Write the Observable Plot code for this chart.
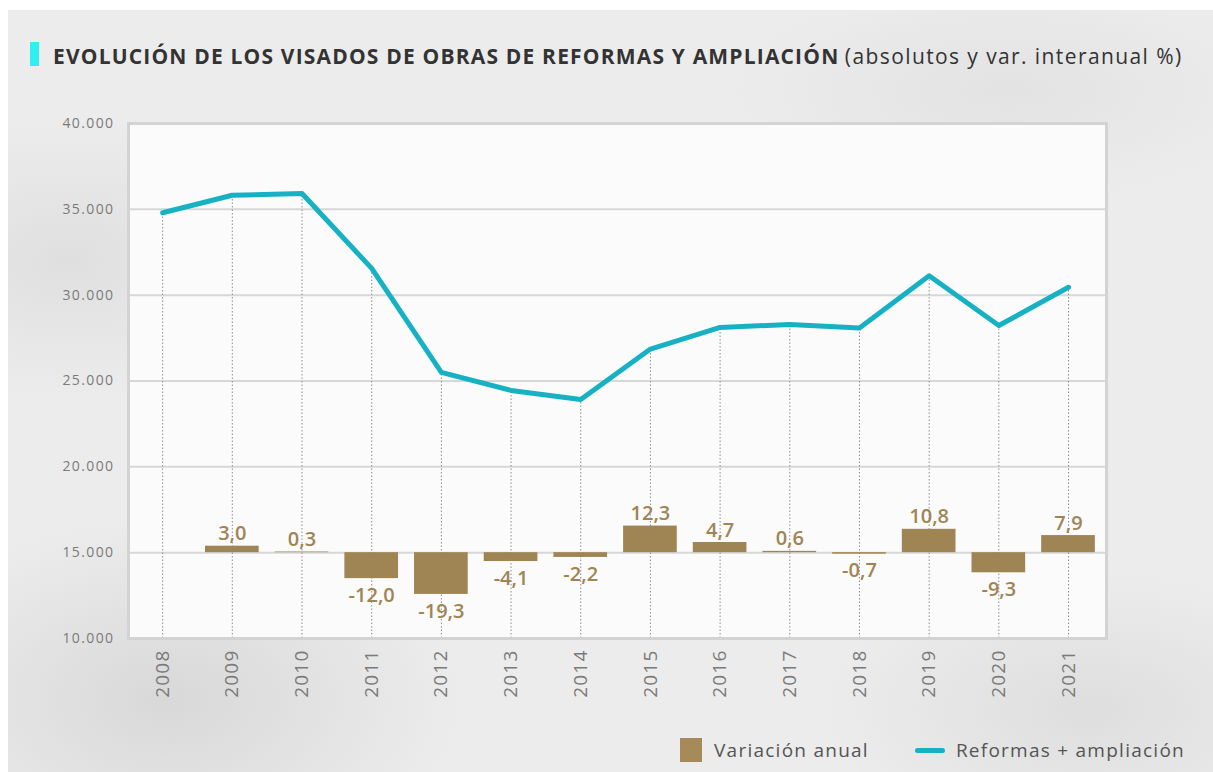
<!DOCTYPE html>
<html>
<head>
<meta charset="utf-8">
<script src="https://cdn.jsdelivr.net/npm/d3@7"></script>
<script src="https://cdn.jsdelivr.net/npm/@observablehq/plot@0.6"></script>
<style>
  html, body { margin: 0; padding: 0; background: #ffffff; width: 1213px; height: 772px; overflow: hidden; }
  #bg {
    position: absolute; left: 8px; top: 10px; width: 1205px; height: 762px;
    background:
      radial-gradient(ellipse 420px 260px at 160px 690px, rgba(200,200,200,0.55), rgba(200,200,200,0) 70%),
      radial-gradient(ellipse 380px 200px at 1080px 700px, rgba(205,205,205,0.45), rgba(205,205,205,0) 70%),
      radial-gradient(ellipse 300px 200px at 60px 250px, rgba(210,210,210,0.5), rgba(210,210,210,0) 70%),
      radial-gradient(ellipse 400px 160px at 1000px 80px, rgba(215,215,215,0.45), rgba(215,215,215,0) 70%),
      #ececec;
  }
  #title {
    position: absolute; left: 53px; top: 46px; margin: 0;
    font-family: "Open Sans", sans-serif; font-size: 21px; line-height: 21px;
    color: #333333; white-space: nowrap;
  }
  #title b { font-weight: 700; letter-spacing: 1.18px; }
  #title span { font-weight: 400; letter-spacing: 1.4px; }
  #marker { position: absolute; left: 30px; top: 42px; width: 9px; height: 24px; background: #2ef0f0; }
  #chart { position: absolute; left: 0; top: 0; }
  #legend {
    position: absolute; left: 680px; top: 737px; display: flex; align-items: center;
    font-family: "Open Sans", sans-serif; font-size: 19px; letter-spacing: 1.25px; color: #555555;
  }
  #legend .sq { width: 22px; height: 24px; background: #a58a5a; margin-right: 12px; }
  #legend .ln { width: 30px; height: 5px; border-radius: 3px; background: #17b1c4; margin-left: 46px; margin-right: 11px; }
  g[aria-label="y-axis tick label"] text { letter-spacing: 1.4px; }
  g[aria-label="x-axis tick label"] text { letter-spacing: 1.2px; }
</style>
</head>
<body>
<div id="bg"></div>
<div id="marker"></div>
<div id="title"><b>EVOLUCIÓN DE LOS VISADOS DE OBRAS DE REFORMAS Y AMPLIACIÓN</b> <span>(absolutos y var. interanual %)</span></div>
<div id="chart"></div>
<div id="legend"><div class="sq"></div><div>Variación anual</div><div class="ln"></div><div>Reformas + ampliación</div></div>
<script>
// ---- data ----
const years = [2008, 2009, 2010, 2011, 2012, 2013, 2014, 2015, 2016, 2017, 2018, 2019, 2020, 2021];
const absolutos = [34800, 35820, 35920, 31560, 25500, 24450, 23920, 26860, 28120, 28290, 28090, 31130, 28230, 30460];
const variacion = [null, 3.0, 0.3, -12.0, -19.3, -4.1, -2.2, 12.3, 4.7, 0.6, -0.7, 10.8, -9.3, 7.9];
const yTicks = [10000, 15000, 20000, 25000, 30000, 35000, 40000];

// secondary (percentage) axis mapped onto the main axis: 0 % at 15.000, 1 point = 126 units
const BAR_BASE = 15000, BAR_UNIT = 126;
const HALF_BAR = 0.385; // half bar width, in years

const rows = years.map((y, i) => ({ year: y, abs: absolutos[i], v: variacion[i] }));
const bars = rows.filter(d => d.v != null).map(d => ({ ...d, yv: BAR_BASE + d.v * BAR_UNIT }));
const fmtPct = v => d3.format(".1f")(v).replace(".", ",").replace("\u2212", "-");
const fmtAbs = v => d3.format(",")(v).replace(/,/g, ".");

const lineColor = "#17b1c4";
const barColor = "#9f8454";

const plot = Plot.plot({
  width: 1213,
  height: 720,
  marginLeft: 128,
  marginRight: 107,
  marginTop: 123,
  marginBottom: 82,
  style: { fontFamily: "'Open Sans', sans-serif", background: "transparent", overflow: "visible" },
  x: { domain: [years[0] - 0.49, years[years.length - 1] + 0.545], label: null },
  y: { domain: [10000, 40000], label: null },
  marks: [
    Plot.frame({ fill: "#fcfcfc", fillOpacity: 0.95 }),
    Plot.gridY(yTicks.slice(1, -1), { stroke: "#d7d7d7", strokeOpacity: 1, strokeWidth: 2 }),
    Plot.ruleX(rows, { x: "year", y1: 10000, y2: "abs", stroke: "#8d8d8d", strokeWidth: 1, strokeDasharray: "1.5,2" }),
    Plot.rectY(bars, { x1: d => d.year - HALF_BAR, x2: d => d.year + HALF_BAR, y1: BAR_BASE, y2: "yv", fill: barColor }),
    Plot.text(bars.filter(d => d.v >= 0), { x: "year", y: "yv", text: d => fmtPct(d.v), lineAnchor: "bottom", dy: -6, fill: barColor, fontSize: 20, fontWeight: 600 }),
    Plot.text(bars.filter(d => d.v < 0), { x: "year", y: "yv", text: d => fmtPct(d.v), lineAnchor: "top", dy: 9, fill: barColor, fontSize: 20, fontWeight: 600 }),
    Plot.line(rows, { x: "year", y: "abs", stroke: lineColor, strokeWidth: 5, strokeLinejoin: "round" }),
    Plot.frame({ stroke: "#d3d3d3", strokeWidth: 3 }),
    Plot.axisY(yTicks, { tickFormat: fmtAbs, tickSize: 0, tickPadding: 14, fontSize: 14, color: "#7a7a7a" }),
    Plot.axisX(years, { tickFormat: d => String(d), tickRotate: -90, tickSize: 0, tickPadding: 11, fontSize: 19, color: "#7a7a7a" })
  ]
});
document.getElementById("chart").appendChild(plot);
</script>
</body>
</html>
